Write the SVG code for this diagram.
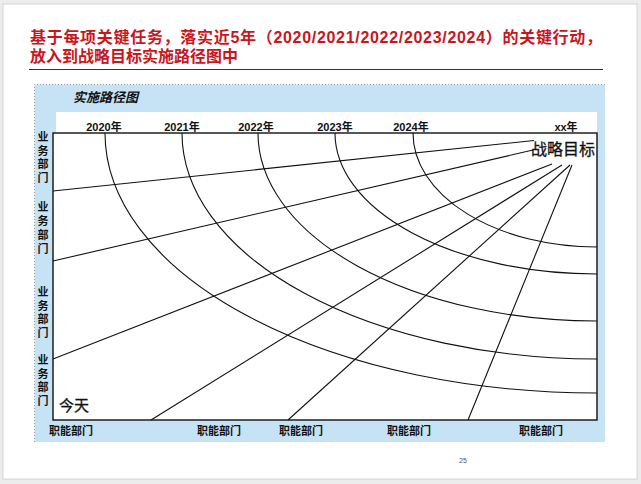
<svg xmlns="http://www.w3.org/2000/svg" width="641" height="484" viewBox="0 0 641 484">
<style>
.cn{font-family:"Liberation Sans","Noto Sans CJK SC",sans-serif;}
.title{font-size:16px;font-weight:bold;fill:#c8161d;}
.lbl{font-size:11px;font-weight:bold;fill:#111;}
.yr{font-size:11px;font-weight:bold;fill:#111;text-anchor:middle;}
.big{font-size:16px;fill:#111;}
.arc{fill:none;stroke:#111;stroke-width:1.1;}
.ray{fill:none;stroke:#111;stroke-width:1.1;}
</style>
<rect x="0" y="0" width="641" height="484" fill="#ececec"/>
<rect x="3" y="4" width="634" height="475" fill="#ffffff" stroke="#d4d4d4" stroke-width="1"/>
<g id="title" class="cn title">
<text x="30" y="43" textLength="572" lengthAdjust="spacing">基于每项关键任务，落实近5年（2020/2021/2022/2023/2024）的关键行动，</text>
<text x="30" y="62">放入到战略目标实施路径图中</text>
</g>
<line x1="29" y1="69.5" x2="603" y2="69.5" stroke="#333" stroke-width="1"/>
<g id="panel">
<rect x="34.5" y="84.5" width="570.5" height="357.5" fill="#c6e3f5"/>
<path d="M34.5 442 V84.5 H605" fill="none" stroke="#9a9a9a" stroke-width="1" stroke-dasharray="1 2"/>
<text class="cn" x="73" y="102" font-size="13" font-weight="bold" font-style="italic" fill="#111">实施路径图</text>
<rect x="56" y="112" width="541" height="21" fill="#ffffff"/>
</g>
<g id="chart">
<rect x="53" y="133" width="544" height="287" fill="#ffffff" stroke="#111" stroke-width="1.4"/>
</g>
<g id="years" class="cn yr">
<text x="104" y="130.5">2020年</text>
<text x="182" y="130.5">2021年</text>
<text x="256" y="130.5">2022年</text>
<text x="335" y="130.5">2023年</text>
<text x="411" y="130.5">2024年</text>
<text x="566" y="130.5">xx年</text>
</g>
<g id="business-depts" class="cn lbl" text-anchor="middle">
<text x="43" y="141">业</text><text x="43" y="154.5">务</text><text x="43" y="168">部</text><text x="43" y="181.5">门</text>
<text x="43" y="211">业</text><text x="43" y="225">务</text><text x="43" y="239">部</text><text x="43" y="252.5">门</text>
<text x="43" y="296">业</text><text x="43" y="309.5">务</text><text x="43" y="323">部</text><text x="43" y="336.5">门</text>
<text x="43" y="364">业</text><text x="43" y="377.5">务</text><text x="43" y="391">部</text><text x="43" y="404.5">门</text>
</g>
<g id="function-depts" class="cn lbl">
<text x="49" y="434.5">职能部门</text>
<text x="197" y="434.5">职能部门</text>
<text x="279" y="434.5">职能部门</text>
<text x="387" y="434.5">职能部门</text>
<text x="519" y="434.5">职能部门</text>
</g>
<g id="connectors">
<path class="arc" d="M105 133 A492 260 0 0 0 597 393"/>
<path class="arc" d="M182 133 A415 226 0 0 0 597 359"/>
<path class="arc" d="M258 133 A339 188 0 0 0 597 321"/>
<path class="arc" d="M335 133 A262 141 0 0 0 597 274"/>
<path class="arc" d="M413 133 A184 114 0 0 0 597 247"/>
<line class="ray" x1="53" y1="191" x2="534" y2="140.5"/>
<line class="ray" x1="53" y1="261" x2="533" y2="150"/>
<line class="ray" x1="53" y1="359" x2="552" y2="164"/>
<line class="ray" x1="151" y1="420" x2="562" y2="165"/>
<line class="ray" x1="288" y1="420" x2="570" y2="165"/>
<line class="ray" x1="468" y1="420" x2="572" y2="165"/>
</g>
<g id="goal">
<text class="cn big" x="531" y="155" stroke="#111" stroke-width="0.3">战略目标</text>
</g>
<g id="today">
<text class="cn" x="59" y="411" font-size="15" fill="#111" stroke="#111" stroke-width="0.3">今天</text>
</g>
<text class="cn" x="459" y="463" font-size="7" fill="#555">25</text>
</svg>
